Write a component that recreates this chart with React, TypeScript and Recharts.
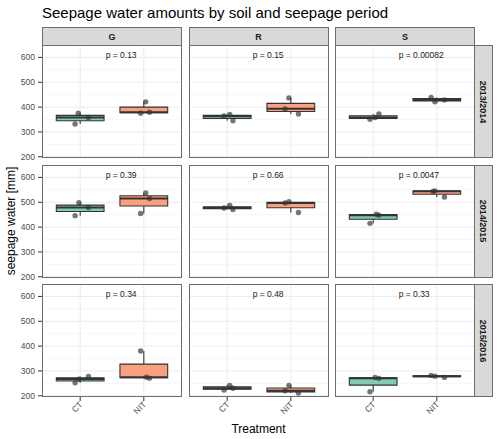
import { ComposedChart, XAxis, YAxis, CartesianGrid, ReferenceArea, ReferenceLine, Scatter } from "recharts";

const FONT = '"Liberation Sans", Arial, Helvetica, sans-serif';

// facets
const soils = ["G", "R", "S"];
const periods = ["2013/2014", "2014/2015", "2015/2016"];
const treatments = ["CT", "NIT"];

// axis ticks
const yTicks = [200, 300, 400, 500, 600];
const yMinorTicks = [250, 350, 450, 550, 650];

// seepage water [mm], three replicates per soil (G, R, S)
const ct1314 = [[375, 358, 332], [364, 370, 345], [351, 358, 372]];
const nit1314 = [[421, 375, 379], [437, 393, 372], [439, 421, 429]];
const ct1415 = [[498, 479, 446], [477, 487, 471], [452, 448, 415]];
const nit1415 = [[537, 515, 455], [497, 502, 459], [544, 546, 521]];
const ct1516 = [[252, 267, 278], [223, 242, 230], [274, 270, 216]];
const nit1516 = [[380, 275, 271], [242, 220, 211], [282, 279, 274]];

// horizontal jitter of the replicate points (in category units)
const jitCT1314 = [[-0.03, 0.13, -0.08], [-0.05, 0.04, 0.09], [-0.05, 0.03, 0.09]];
const jitNIT1314 = [[0.03, -0.05, 0.09], [-0.03, -0.09, 0.12], [-0.09, -0.03, 0.12]];
const jitCT1415 = [[-0.02, 0.13, -0.08], [-0.05, 0.04, 0.09], [0.05, 0.09, -0.05]];
const jitNIT1415 = [[0.03, 0.09, -0.05], [-0.09, -0.03, 0.12], [-0.06, -0.03, 0.12]];
const jitCT1516 = [[-0.08, -0.02, 0.13], [-0.05, 0.04, 0.09], [0.03, 0.09, -0.05]];
const jitNIT1516 = [[-0.05, 0.04, 0.09], [-0.03, -0.09, 0.12], [-0.09, -0.03, 0.12]];

// p-values per period (rows) and soil (columns)
const pLabels = [
  ["0.13", "0.15", "0.00082"],
  ["0.39", "0.66", "0.0047"],
  ["0.34", "0.48", "0.33"],
];

const values = [
  [ct1314, nit1314],
  [ct1415, nit1415],
  [ct1516, nit1516],
];
const jitter = [
  [jitCT1314, jitNIT1314],
  [jitCT1415, jitNIT1415],
  [jitCT1516, jitNIT1516],
];

const fills = ["#7FCCB0", "#FBA07E"];

const PANEL_W = 140;
const PANEL_H = 113;
const panelLefts = [42, 188.5, 335];
const panelTops = [45, 164.5, 284];
const Y_DOMAIN: [number, number] = [195, 650];
const BOX_HALF = 0.375;
// room below inner panels so the lowest tick label is not clipped
const SPARE_BOTTOM = 6;

function quantile(sorted: number[], p: number) {
  const h = (sorted.length - 1) * p;
  const lo = Math.floor(h);
  const hi = Math.min(lo + 1, sorted.length - 1);
  return sorted[lo] + (h - lo) * (sorted[hi] - sorted[lo]);
}

function boxStats(vals: number[]) {
  const s = [...vals].sort((a, b) => a - b);
  return {
    min: s[0],
    q1: quantile(s, 0.25),
    med: quantile(s, 0.5),
    q3: quantile(s, 0.75),
    max: s[s.length - 1],
  };
}

function XTick(props: any) {
  const { x, y, payload } = props;
  const tx = x + 3;
  const ty = y + 2;
  return (
    <text
      x={tx}
      y={ty}
      transform={`rotate(-45 ${tx} ${ty})`}
      textAnchor="end"
      fontSize={8.5}
      fill="#4D4D4D"
      fontFamily={FONT}
    >
      {treatments[payload.value - 1]}
    </text>
  );
}

function Point(props: any) {
  const { cx, cy } = props;
  return <circle cx={cx} cy={cy} r={2.7} fill="#333333" fillOpacity={0.68} />;
}

function PLabel(props: any) {
  const { cx, cy, payload } = props;
  return (
    <text x={cx} y={cy} dy="0.35em" fontSize={8.5} fill="#1A1A1A" fontFamily={FONT}>
      {payload.label}
    </text>
  );
}

function Panel({ row, col }: { row: number; col: number }) {
  const yAxisW = col === 0 ? 42 : 0;
  const bottomRow = row === 2;
  const xAxisH = bottomRow ? 40 : 0;
  const spare = bottomRow ? 0 : SPARE_BOTTOM;
  const groups = treatments.map((t, i) => {
    const vals = values[row][i][col];
    const jit = jitter[row][i][col];
    return {
      center: i + 1,
      fill: fills[i],
      stats: boxStats(vals),
      points: vals.map((v, k) => ({ x: i + 1 + jit[k], y: v })),
    };
  });
  const label = [{ x: 1.4, y: 610, label: `p = ${pLabels[row][col]}` }];

  return (
    <div style={{ position: "absolute", left: panelLefts[col] - yAxisW, top: panelTops[row] }}>
      <ComposedChart
        width={PANEL_W + yAxisW}
        height={PANEL_H + xAxisH + spare}
        margin={{ top: 0, right: 0, bottom: spare, left: 0 }}
      >
        <CartesianGrid horizontalValues={yMinorTicks} vertical={false} stroke="#F2F2F2" strokeWidth={0.6} />
        <CartesianGrid horizontalValues={yTicks} verticalValues={[1, 2]} stroke="#EBEBEB" strokeWidth={1} />
        <XAxis
          type="number"
          dataKey="x"
          domain={[0.4, 2.6]}
          ticks={[1, 2]}
          interval={0}
          allowDataOverflow
          hide={!bottomRow}
          height={40}
          axisLine={false}
          tickLine={{ stroke: "#333333" }}
          tickSize={4}
          tickMargin={2}
          tick={<XTick />}
        />
        <YAxis
          type="number"
          dataKey="y"
          domain={Y_DOMAIN}
          ticks={yTicks}
          interval={0}
          allowDataOverflow
          hide={col !== 0}
          width={42}
          axisLine={false}
          tickLine={{ stroke: "#333333" }}
          tickSize={4}
          tickMargin={3}
          tick={{ fontSize: 8.5, fill: "#4D4D4D", fontFamily: FONT }}
        />
        {groups.map((g) => (
          <ReferenceLine
            key={`wl-${g.center}`}
            segment={[{ x: g.center, y: g.stats.min }, { x: g.center, y: g.stats.q1 }]}
            stroke="#333333"
            strokeWidth={1.1}
          />
        ))}
        {groups.map((g) => (
          <ReferenceLine
            key={`wu-${g.center}`}
            segment={[{ x: g.center, y: g.stats.q3 }, { x: g.center, y: g.stats.max }]}
            stroke="#333333"
            strokeWidth={1.1}
          />
        ))}
        {groups.map((g) => (
          <ReferenceArea
            key={`box-${g.center}`}
            x1={g.center - BOX_HALF}
            x2={g.center + BOX_HALF}
            y1={g.stats.q1}
            y2={g.stats.q3}
            fill={g.fill}
            fillOpacity={1}
            stroke="#333333"
            strokeWidth={1.1}
          />
        ))}
        {groups.map((g) => (
          <ReferenceLine
            key={`med-${g.center}`}
            segment={[
              { x: g.center - BOX_HALF, y: g.stats.med },
              { x: g.center + BOX_HALF, y: g.stats.med },
            ]}
            stroke="#333333"
            strokeWidth={2}
          />
        ))}
        {groups.map((g) => (
          <Scatter
            key={`pts-${g.center}`}
            data={g.points}
            dataKey="y"
            shape={<Point />}
            isAnimationActive={false}
          />
        ))}
        <Scatter data={label} dataKey="y" shape={<PLabel />} isAnimationActive={false} />
      </ComposedChart>
      <div
        style={{
          position: "absolute",
          left: yAxisW,
          top: 0,
          width: PANEL_W,
          height: PANEL_H,
          boxSizing: "border-box",
          border: "1px solid #6E6E6E",
          pointerEvents: "none",
        }}
      />
    </div>
  );
}

function TopStrip({ col }: { col: number }) {
  return (
    <div
      style={{
        position: "absolute",
        left: panelLefts[col],
        top: 27,
        width: PANEL_W,
        height: 18,
        boxSizing: "border-box",
        background: "#D9D9D9",
        border: "1px solid #6E6E6E",
        borderBottom: "none",
        display: "flex",
        alignItems: "center",
        justifyContent: "center",
        fontSize: 9,
        fontWeight: "bold",
        color: "#1A1A1A",
      }}
    >
      {soils[col]}
    </div>
  );
}

function SideStrip({ row }: { row: number }) {
  return (
    <div
      style={{
        position: "absolute",
        left: 475,
        top: panelTops[row],
        width: 18,
        height: PANEL_H,
        boxSizing: "border-box",
        background: "#D9D9D9",
        border: "1px solid #6E6E6E",
        borderLeft: "none",
        display: "flex",
        alignItems: "center",
        justifyContent: "center",
      }}
    >
      <span
        style={{
          transform: "rotate(90deg)",
          whiteSpace: "nowrap",
          fontSize: 9,
          fontWeight: "bold",
          color: "#1A1A1A",
        }}
      >
        {periods[row]}
      </span>
    </div>
  );
}

export default function App() {
  return (
    <div
      style={{
        position: "absolute",
        left: 0,
        top: 0,
        width: 500,
        height: 439,
        background: "#FFFFFF",
        fontFamily: FONT,
        overflow: "hidden",
      }}
    >
      <svg width={500} height={439} style={{ position: "absolute", left: 0, top: 0 }}>
        <text x={42} y={18} fontSize={15} fill="#000000" fontFamily={FONT}>
          Seepage water amounts by soil and seepage period
        </text>
        <text
          x={258.5}
          y={433}
          fontSize={12}
          textAnchor="middle"
          fill="#000000"
          fontFamily={FONT}
        >
          Treatment
        </text>
        <text
          x={15}
          y={221}
          fontSize={12}
          textAnchor="middle"
          transform="rotate(-90 15 221)"
          fill="#000000"
          fontFamily={FONT}
        >
          seepage water [mm]
        </text>
      </svg>
      {soils.map((_, c) => (
        <TopStrip key={`ts-${c}`} col={c} />
      ))}
      {periods.map((_, r) => (
        <SideStrip key={`ss-${r}`} row={r} />
      ))}
      {periods.map((_, r) =>
        soils.map((_, c) => <Panel key={`p-${r}-${c}`} row={r} col={c} />)
      )}
    </div>
  );
}
